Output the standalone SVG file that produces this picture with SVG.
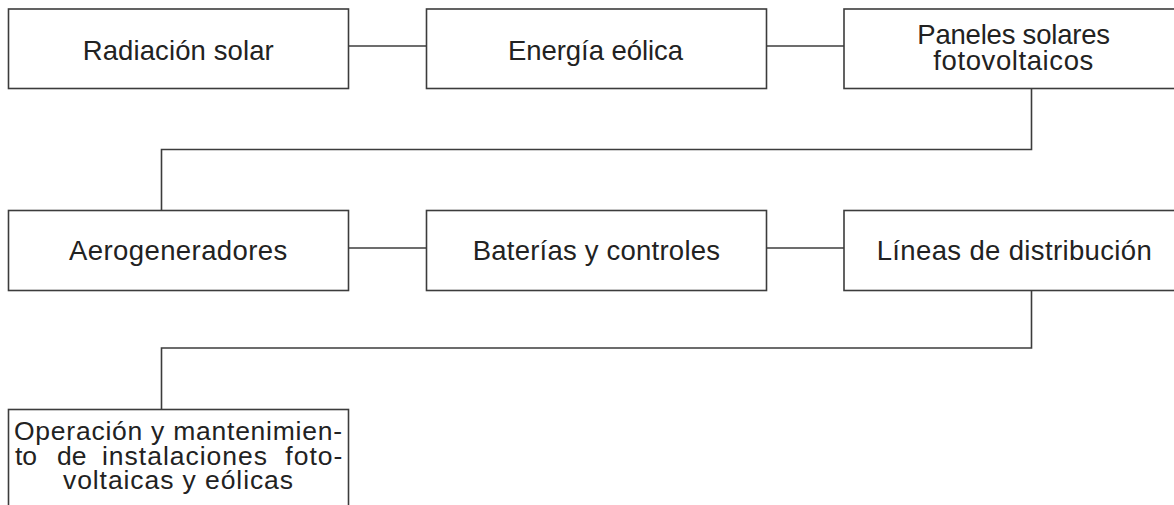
<svg xmlns="http://www.w3.org/2000/svg" width="1174" height="505" viewBox="0 0 1174 505">
<style>
.box{fill:#fff;stroke:#3c3c3c;stroke-width:1.6}
.conn{fill:none;stroke:#3c3c3c;stroke-width:1.6}
text{font-family:"Liberation Sans",Arial,sans-serif;font-size:27.5px;fill:#222}
.sm{font-size:26.5px}
</style>
<rect width="1174" height="505" fill="#fff"/>
<g id="connectors">
<path class="conn" d="M348.5 46H426.5"/>
<path class="conn" d="M766.5 46H844"/>
<path class="conn" d="M1031.5 88.5V149.5H161.5V210.5"/>
<path class="conn" d="M348.5 248H426.5"/>
<path class="conn" d="M766.5 248H844"/>
<path class="conn" d="M1031.5 290.5V348H161.5V409.5"/>
</g>
<g id="n1">
<rect class="box" x="8.5" y="9" width="340" height="79.5"/>
<text x="82.7" y="60" textLength="191" lengthAdjust="spacing">Radiación solar</text>
</g>
<g id="n2">
<rect class="box" x="426.5" y="9" width="340" height="79.5"/>
<text x="508" y="60" textLength="175" lengthAdjust="spacing">Energía eólica</text>
</g>
<g id="n3">
<rect class="box" x="844" y="9" width="340" height="79.5"/>
<text x="917.3" y="44.3" textLength="192.7" lengthAdjust="spacing">Paneles solares</text>
<text x="933.3" y="70" textLength="160" lengthAdjust="spacing">fotovoltaicos</text>
</g>
<g id="n4">
<rect class="box" x="8.5" y="210.5" width="340" height="80"/>
<text x="69" y="260" textLength="218.3" lengthAdjust="spacing">Aerogeneradores</text>
</g>
<g id="n5">
<rect class="box" x="426.5" y="210.5" width="340" height="80"/>
<text x="472.7" y="259.5" textLength="247.3" lengthAdjust="spacing">Baterías y controles</text>
</g>
<g id="n6">
<rect class="box" x="844" y="210.5" width="340" height="80"/>
<text x="876.7" y="259.5" textLength="275" lengthAdjust="spacing">Líneas de distribución</text>
</g>
<g id="n7">
<rect class="box" x="8.5" y="409.5" width="340" height="120"/>
<text class="sm" x="14" y="440" textLength="328" lengthAdjust="spacing">Operación y mantenimien-</text>
<text class="sm" x="15" y="464.5">to</text>
<text class="sm" x="57" y="464.5">de</text>
<text class="sm" x="102" y="464.5" textLength="165" lengthAdjust="spacing">instalaciones</text>
<text class="sm" x="285.3" y="464.5" textLength="57" lengthAdjust="spacing">foto-</text>
<text class="sm" x="63" y="489" textLength="230" lengthAdjust="spacing">voltaicas y eólicas</text>
</g>
</svg>
